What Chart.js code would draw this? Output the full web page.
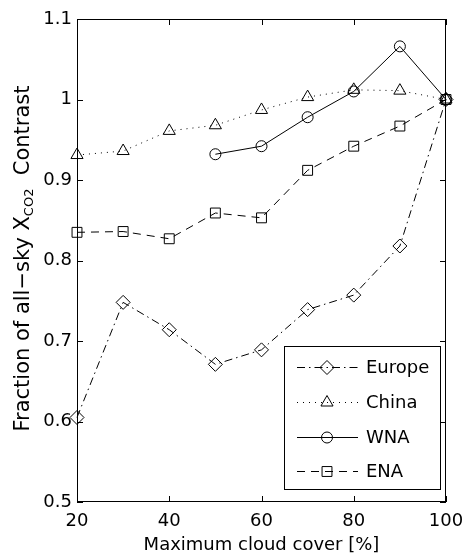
<!DOCTYPE html>
<html>
<head>
<meta charset="utf-8">
<script src="https://cdn.jsdelivr.net/npm/chart.js@4"></script>
<style>
  html, body { margin: 0; padding: 0; background: #fff; }
</style>
</head>
<body>
<canvas id="lineChart" width="466" height="557"></canvas>
<script>
var cloudCover = [20, 30, 40, 50, 60, 70, 80, 90, 100];
var europe = [0.605, 0.748, 0.714, 0.671, 0.689, 0.739, 0.757, 0.818, 1.0];
var china = [0.931, 0.936, 0.961, 0.968, 0.987, 1.003, 1.012, 1.011, 1.0];
var wna = [null, null, null, 0.932, 0.942, 0.978, 1.010, 1.066, 1.0];
var ena = [0.835, 0.836, 0.827, 0.859, 0.853, 0.912, 0.942, 0.967, 1.0];
var xTicks = [20, 40, 60, 80, 100];
var yTicks = [0.5, 0.6, 0.7, 0.8, 0.9, 1.0, 1.1];

function toPoints(values) {
    var pts = [];
    for (var i = 0; i < cloudCover.length; i++) {
        if (values[i] !== null) pts.push({ x: cloudCover[i], y: values[i] });
    }
    return pts;
}

function series(label, values, style, radius, dash) {
    return {
        label: label,
        data: toPoints(values),
        borderColor: '#000',
        borderWidth: 1,
        borderDash: dash,
        backgroundColor: 'rgba(0,0,0,0)',
        pointStyle: style,
        pointRadius: radius,
        pointBorderColor: '#000',
        pointBorderWidth: 1,
        pointBackgroundColor: 'rgba(0,0,0,0)',
        tension: 0,
        clip: false
    };
}

var datasets = [
    series('Europe', europe, 'rectRot', 7, [8, 4, 1.5, 4]),
    series('China', china, 'triangle', 7, [1, 5]),
    series('WNA', wna, 'circle', 5.5, []),
    series('ENA', ena, 'rect', 7, [8, 6])
];

function drawMarker(ctx, style, r, x, y) {
    ctx.beginPath();
    if (style === 'circle') {
        ctx.arc(x, y, r, 0, Math.PI * 2);
    } else if (style === 'triangle') {
        ctx.moveTo(x, y - r);
        ctx.lineTo(x + r * Math.cos(Math.PI / 6), y + r / 2);
        ctx.lineTo(x - r * Math.cos(Math.PI / 6), y + r / 2);
        ctx.closePath();
    } else if (style === 'rect') {
        var s = r * Math.SQRT1_2;
        ctx.rect(x - s, y - s, 2 * s, 2 * s);
    } else if (style === 'rectRot') {
        ctx.moveTo(x, y - r);
        ctx.lineTo(x + r, y);
        ctx.lineTo(x, y + r);
        ctx.lineTo(x - r, y);
        ctx.closePath();
    }
    ctx.stroke();
}

// frame, inward ticks, y title with subscript, boxed legend
var framePlugin = {
    id: 'frame',
    afterDraw: function (chart) {
        var ctx = chart.ctx;
        var a = chart.chartArea;
        var xs = chart.scales.x, ys = chart.scales.y;
        var tl = 6;
        ctx.save();
        ctx.strokeStyle = '#000';
        ctx.lineWidth = 1;
        ctx.setLineDash([]);
        ctx.strokeRect(a.left + 0.5, a.top + 0.5, a.right - a.left - 1, a.bottom - a.top - 1);
        ctx.beginPath();
        xTicks.forEach(function (v) {
            var px = Math.round(xs.getPixelForValue(v)) + 0.5;
            ctx.moveTo(px, a.bottom); ctx.lineTo(px, a.bottom - tl);
            ctx.moveTo(px, a.top); ctx.lineTo(px, a.top + tl);
        });
        yTicks.forEach(function (v) {
            var py = Math.round(ys.getPixelForValue(v)) + 0.5;
            ctx.moveTo(a.left, py); ctx.lineTo(a.left + tl, py);
            ctx.moveTo(a.right, py); ctx.lineTo(a.right - tl, py);
        });
        ctx.stroke();

        // y axis title
        var big = '21px "DejaVu Sans"', small = '13px "DejaVu Sans"';
        var p1 = 'Fraction of all\u2212sky X', p2 = 'CO2', p3 = '  Contrast';
        ctx.font = big;
        var w1 = ctx.measureText(p1).width, w3 = ctx.measureText(p3).width;
        ctx.font = small;
        var w2 = ctx.measureText(p2).width;
        var total = w1 + w2 + w3;
        ctx.translate(29, (a.top + a.bottom) / 2 - 2);
        ctx.rotate(-Math.PI / 2);
        ctx.fillStyle = '#000';
        ctx.textBaseline = 'alphabetic';
        ctx.textAlign = 'left';
        var sx = -total / 2;
        ctx.font = big; ctx.fillText(p1, sx, 0);
        ctx.font = small; ctx.fillText(p2, sx + w1, 4);
        ctx.font = big; ctx.fillText(p3, sx + w1 + w2, 0);
        ctx.restore();

        // legend
        ctx.save();
        var w = 156, h = 143;
        var left = a.right - 6 - w, top = a.bottom - 13 - h;
        ctx.fillStyle = '#fff';
        ctx.fillRect(left, top, w, h);
        ctx.strokeStyle = '#000';
        ctx.lineWidth = 1;
        ctx.strokeRect(left + 0.5, top + 0.5, w, h);
        ctx.font = '18px "DejaVu Sans"';
        ctx.textBaseline = 'middle';
        ctx.fillStyle = '#000';
        chart.data.datasets.forEach(function (ds, i) {
            var y = Math.round(top + 21 + i * 34.8) + 0.5;
            ctx.setLineDash(ds.borderDash);
            ctx.beginPath();
            ctx.moveTo(left + 13, y);
            ctx.lineTo(left + 74, y);
            ctx.stroke();
            ctx.setLineDash([]);
            ctx.fillStyle = '#fff';
            drawMarker(ctx, ds.pointStyle, ds.pointRadius, left + 43, y);
            ctx.fillStyle = '#000';
            ctx.fillText(ds.label, left + 82, y + 1);
        });
        ctx.restore();
    }
};

var ctx = document.getElementById('lineChart').getContext('2d');
new Chart(ctx, {
    type: 'line',
    data: { datasets: datasets },
    options: {
        responsive: false,
        animation: false,
        layout: { padding: { top: 19, right: 20, left: 0, bottom: 0 } },
        plugins: { legend: { display: false }, tooltip: { enabled: false } },
        scales: {
            x: {
                type: 'linear',
                min: 20,
                max: 100,
                grid: { display: false, drawTicks: false },
                border: { display: false },
                afterBuildTicks: function (scale) {
                    scale.ticks = xTicks.map(function (v) { return { value: v }; });
                },
                afterFit: function (scale) {
                    scale.height = 55;
                    scale.paddingLeft = 0;
                    scale.paddingRight = 0;
                },
                ticks: {
                    color: '#000',
                    font: { family: 'DejaVu Sans', size: 18 },
                    padding: 9,
                    maxRotation: 0
                },
                title: {
                    display: true,
                    text: 'Maximum cloud cover [%]',
                    color: '#000',
                    font: { family: 'DejaVu Sans', size: 18 },
                    padding: { top: 0, bottom: 1 }
                }
            },
            y: {
                min: 0.5,
                max: 1.1,
                grid: { display: false, drawTicks: false },
                border: { display: false },
                afterBuildTicks: function (scale) {
                    scale.ticks = yTicks.map(function (v) { return { value: v }; });
                },
                afterFit: function (scale) {
                    scale.width = 77;
                    scale.paddingTop = 0;
                    scale.paddingBottom = 0;
                },
                ticks: {
                    color: '#000',
                    font: { family: 'DejaVu Sans', size: 18 },
                    padding: 5,
                    callback: function (v) { return String(+v.toFixed(1)); }
                }
            }
        }
    },
    plugins: [framePlugin]
});
</script>
</body>
</html>
